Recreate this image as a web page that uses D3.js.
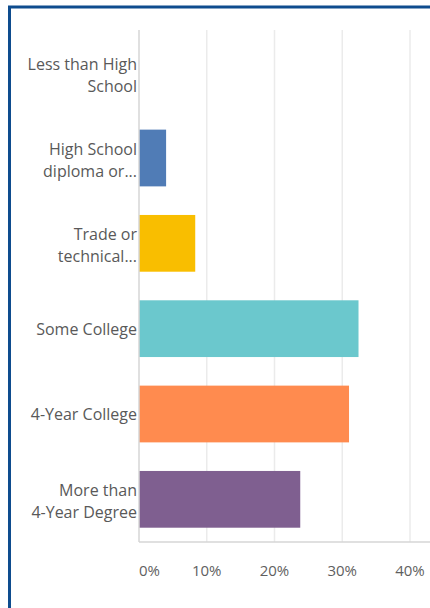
<!DOCTYPE html>
<html>
<head>
<script src="https://d3js.org/d3.v7.min.js"></script>
<style>
  body { margin: 0; background: #fff; }
  text { font-family: "Open Sans", sans-serif; }
</style>
</head>
<body>
<script>
// data
var categories = ["Less than High School", "High School diploma or...", "Trade or technical...",
                  "Some College", "4-Year College", "More than 4-Year Degree"];
var labelLines = [["Less than High", "School"], ["High School", "diploma or..."], ["Trade or", "technical..."],
                  ["Some College"], ["4-Year College"], ["More than", "4-Year Degree"]];
var values = [0, 4.0, 8.3, 32.4, 31.0, 23.8];
var colors = ["#507cb6", "#507cb6", "#f9be00", "#6bc8cd", "#ff8b4f", "#7f5f90"];
var ticks = [0, 10, 20, 30, 40];

var width = 430, height = 608;
var svg = d3.select("body").append("svg")
    .attr("width", width)
    .attr("height", height);

// frame (only top and left edges show)
svg.append("rect")
    .attr("x", 9.5).attr("y", 7)
    .attr("width", 440).attr("height", 620)
    .attr("fill", "none")
    .attr("stroke", "#0e4c8e")
    .attr("stroke-width", 3);

var x = d3.scaleLinear().domain([0, 40]).range([139, 410]);
var y = d3.scaleBand().domain(categories).range([30, 542])
    .paddingInner(0.335).paddingOuter(0.1675);

// grid lines
svg.selectAll(".grid").data(ticks.slice(1)).enter().append("line")
    .attr("x1", function (d) { return x(d); })
    .attr("x2", function (d) { return x(d); })
    .attr("y1", 30).attr("y2", 542)
    .attr("stroke", "#ebebeb")
    .attr("stroke-width", 1.5);

// bars
svg.selectAll(".bar").data(values).enter().append("rect")
    .attr("x", x(0))
    .attr("y", function (d, i) { return y(categories[i]); })
    .attr("width", function (d) { return x(d) - x(0); })
    .attr("height", y.bandwidth())
    .attr("fill", function (d, i) { return colors[i]; });

// axes lines
svg.append("line")
    .attr("x1", x(0)).attr("x2", x(0))
    .attr("y1", 30).attr("y2", 542)
    .attr("stroke", "#d6d6d6").attr("stroke-width", 1.5);
svg.append("line")
    .attr("x1", x(0)).attr("x2", width)
    .attr("y1", 542).attr("y2", 542)
    .attr("stroke", "#d6d6d6").attr("stroke-width", 1.5);

// x tick labels
svg.selectAll(".tick").data(ticks).enter().append("text")
    .attr("x", function (d) { return x(d); })
    .attr("y", 576)
    .attr("text-anchor", function (d) { return d == 0 ? "start" : "middle"; })
    .attr("fill", "#5f5f5f")
    .attr("font-size", 15)
    .text(function (d) { return d + "%"; });

// category labels
var lab = svg.selectAll(".lab").data(categories).enter().append("text")
    .attr("text-anchor", "end")
    .attr("fill", "#595959")
    .attr("font-size", 16)
    .attr("transform", function (d, i) {
        var n = labelLines[i].length;
        var cy = y(d) + y.bandwidth() / 2 + 6 - (n - 1) * 11 + (n > 1 ? 2 : 0);
        return "translate(137," + cy + ")";
    });
lab.selectAll("tspan").data(function (d, i) { return labelLines[i]; }).enter().append("tspan")
    .attr("x", 0)
    .attr("dy", function (d, j) { return j == 0 ? 0 : 22; })
    .text(function (d) { return d; });
</script>
</body>
</html>
